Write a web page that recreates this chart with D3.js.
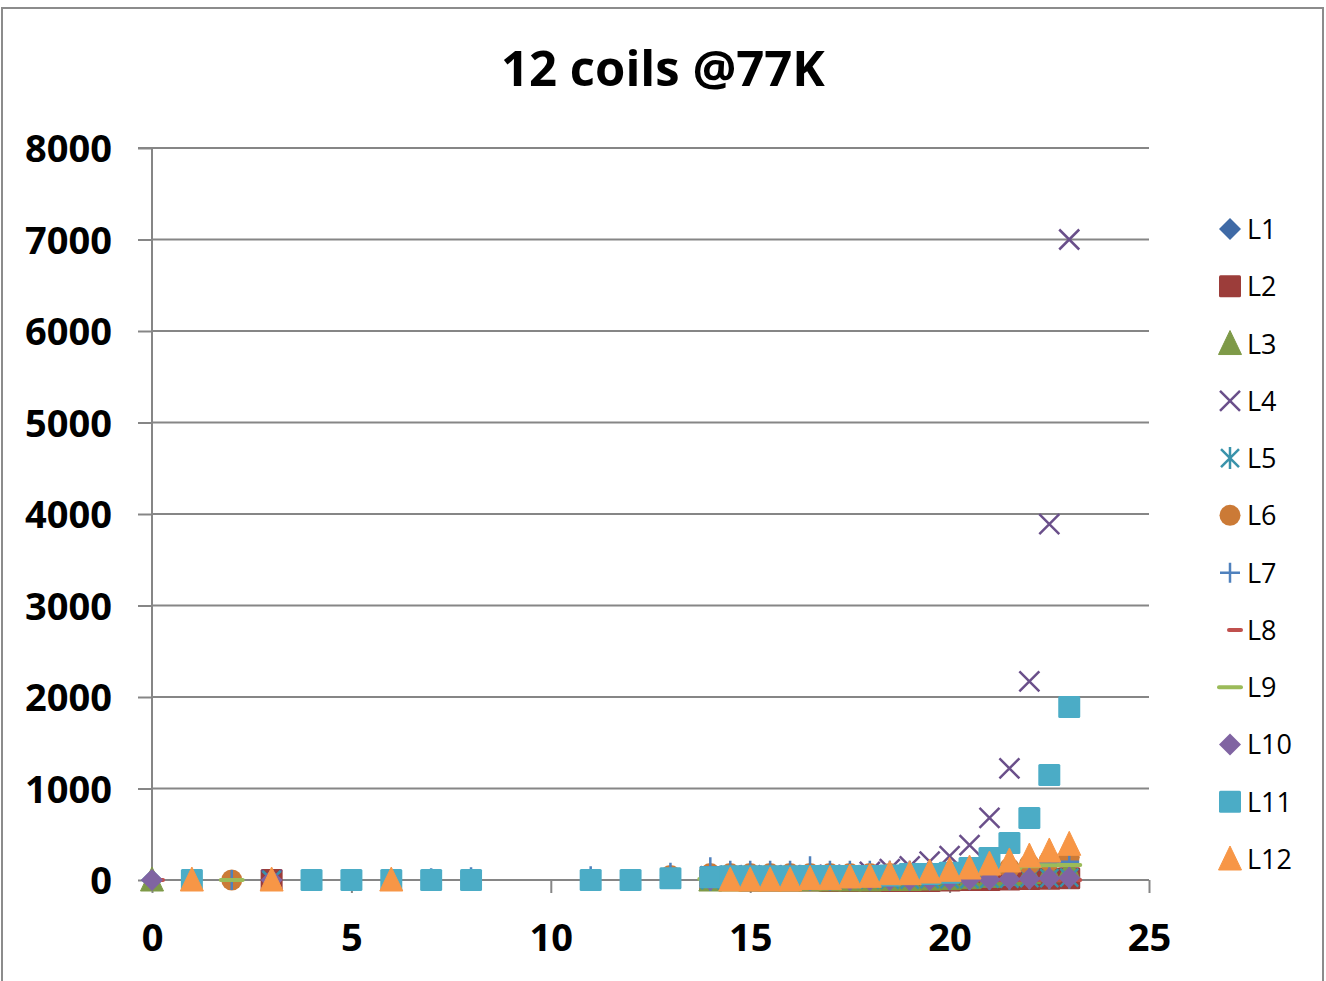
<!DOCTYPE html>
<html>
<head>
<meta charset="utf-8">
<script src="https://cdn.jsdelivr.net/npm/d3@7"></script>
<style>
  html, body { margin: 0; padding: 0; background: #fff; }
  svg { display: block; }
  text { font-family: "Open Sans", "DejaVu Sans", sans-serif; }
</style>
</head>
<body>
<svg id="chart" width="1326" height="981"></svg>
<script>
// ---------- data ----------
const title = "12 coils @77K";
const seriesNames = ["L1","L2","L3","L4","L5","L6","L7","L8","L9","L10","L11","L12"];
const seriesColors = ["#3F6AA6","#9C3D3A","#7E9A48","#6A4F8A","#3A93AB","#CB7A36",
                      "#4F81BD","#C0504D","#9BBB59","#8064A2","#4BACC6","#F79646"];
const seriesMarkers = ["diamond","square","triangle","x","star","circle",
                       "plus","dashShort","dashLong","diamond","square","triangle"];
const xTicks = [0,5,10,15,20,25];
const yTicks = [0,1000,2000,3000,4000,5000,6000,7000,8000];

// sparse early readings per series (x, y)
const xEarly = [[0],[3],[0],[3],[3],[2,13],[2,7,8,11,13],[0],[2],[0,3],[1,4,5,6,7,8,11,12,13],[1,3,6]];
const yEarly = [[0],[0],[0],[0],[0],[0,50],[0,20,30,40,80],[0],[0],[0,0],[0,0,0,0,0,0,0,0,20],[0,0,0]];

// main sweep x values
const xMain = [14,14.5,15,15.5,16,16.5,17,17.5,18,18.5,19,19.5,20,20.5,21,21.5,22,22.5,23];
const L1  = [0,5,5,5,5,5,5,5,5,5,10,10,10,15,15,20,20,25,30];
const L2  = [0,0,-5,-5,-5,-5,-10,-10,-10,-10,-10,-10,-5,0,0,5,10,15,20];
const L3  = [0,0,0,0,0,0,0,0,0,5,5,10,15,25,40,60,80,100,120];
const L4  = [40,45,50,45,50,50,55,50,90,120,150,200,260,380,680,1220,2170,3890,7000];
const L5  = [0,0,0,0,0,0,0,5,5,5,5,10,10,10,15,15,20,20,25];
const L6  = [70,70,70,70,70,70,70,70,70,70,70,70,75,80,100,130,170,210,250];
const L7  = [140,100,100,100,100,150,100,100,100,100,100,100,110,120,130,150,170,180,200];
const L8  = [0,0,0,0,0,0,0,0,0,0,0,0,0,0,0,0,0,0,0];
const L9  = [10,10,10,10,10,10,10,10,10,15,20,30,45,70,100,130,150,160,165];
const L10 = [0,0,0,0,0,0,0,0,0,0,0,0,5,5,5,10,15,20,25];
const L11 = [30,40,40,40,40,45,45,45,45,50,65,65,80,130,240,404,678,1148,1891];
const L12 = [null,0,0,0,0,15,15,33,40,69,69,87,106,131,175,208,262,317,390];
const mainValues = [L1,L2,L3,L4,L5,L6,L7,L8,L9,L10,L11,L12];

// ---------- drawing ----------
const svg = d3.select("#chart");
const gridColor = "#868686";

// outer chart border
svg.append("rect").attr("x", 2).attr("y", 8).attr("width", 1321).attr("height", 990)
  .attr("fill", "#fff").attr("stroke", "#8c8c8c").attr("stroke-width", 2);

const x = d3.scaleLinear().domain([0, 25]).range([152, 1149]);
const y = d3.scaleLinear().domain([0, 8000]).range([880, 148]);

// title
svg.append("text").attr("x", 663).attr("y", 86).attr("text-anchor", "middle")
  .attr("font-size", 49).attr("font-weight", "bold").attr("fill", "#000").text(title);

// gridlines
svg.append("g").selectAll("line").data(yTicks.filter(d => d > 0)).join("line")
  .attr("x1", x(0)).attr("x2", x(25)).attr("y1", d => y(d)).attr("y2", d => y(d))
  .attr("stroke", gridColor).attr("stroke-width", 2);

// y axis
const yAxis = d3.axisLeft(y).tickValues(yTicks).tickSize(14).tickPadding(26).tickFormat(d3.format("d"));
const gy = svg.append("g").attr("transform", `translate(${x(0)},0)`).call(yAxis);
gy.select(".domain").attr("stroke", gridColor).attr("stroke-width", 2).attr("d", `M-14,${y(8000)}H0V${y(0)}`);
gy.selectAll(".tick line").attr("stroke", gridColor).attr("stroke-width", 2);
gy.selectAll(".tick text").attr("font-size", 38).attr("font-weight", "bold").attr("fill", "#000")
  .attr("font-family", "'Open Sans', sans-serif").attr("dy", "0.36em");

// x axis
const xAxis = d3.axisBottom(x).tickValues(xTicks).tickSize(13).tickPadding(44).tickFormat(d3.format("d"));
const gx = svg.append("g").attr("transform", `translate(0,${y(0)})`).call(xAxis);
gx.select(".domain").attr("stroke", gridColor).attr("stroke-width", 2).attr("d", `M${x(0)},0H${x(25)}`);
gx.selectAll(".tick line").attr("stroke", gridColor).attr("stroke-width", 2);
gx.selectAll(".tick text").attr("font-size", 38).attr("font-weight", "bold").attr("fill", "#000")
  .attr("font-family", "'Open Sans', sans-serif").attr("dy", "0.36em");

// marker painter
function drawMarker(g, type, color, cx, cy) {
  const p = g.append("g").attr("transform", `translate(${cx},${cy})`);
  switch (type) {
    case "diamond":
      p.append("path").attr("d", "M0,-11L11,0L0,11L-11,0Z").attr("fill", color); break;
    case "square":
      p.append("rect").attr("x", -11).attr("y", -11).attr("width", 22).attr("height", 22)
        .attr("rx", 1.5).attr("fill", color); break;
    case "triangle":
      p.append("path").attr("d", "M0,-13L11.5,11L-11.5,11Z").attr("fill", color)
        .attr("stroke", color).attr("stroke-width", 1).attr("stroke-linejoin", "round"); break;
    case "x":
      p.append("path").attr("d", "M-10,-10L10,10M10,-10L-10,10").attr("stroke", color)
        .attr("stroke-width", 2.5).attr("fill", "none"); break;
    case "star":
      p.append("path").attr("d", "M-9,-9L9,9M9,-9L-9,9M0,-11V11").attr("stroke", color)
        .attr("stroke-width", 2.5).attr("fill", "none"); break;
    case "circle":
      p.append("circle").attr("r", 10.5).attr("fill", color); break;
    case "plus":
      p.append("path").attr("d", "M-10,0H10M0,-10V10").attr("stroke", color)
        .attr("stroke-width", 2.5).attr("fill", "none"); break;
    case "dashShort":
      p.append("path").attr("d", "M-1,0H11").attr("stroke", color)
        .attr("stroke-width", 4).attr("stroke-linecap", "round"); break;
    case "dashLong":
      p.append("path").attr("d", "M-11,0H11").attr("stroke", color)
        .attr("stroke-width", 4).attr("stroke-linecap", "round"); break;
  }
}

// series points
const plot = svg.append("g");
seriesNames.forEach((name, i) => {
  const pts = [];
  xEarly[i].forEach((xv, k) => pts.push([xv, yEarly[i][k]]));
  xMain.forEach((xv, k) => { if (mainValues[i][k] !== null) pts.push([xv, mainValues[i][k]]); });
  const g = plot.append("g").attr("class", "series-" + name);
  pts.forEach(([xv, yv]) => drawMarker(g, seriesMarkers[i], seriesColors[i], x(xv), y(yv)));
});

// legend
const legendY = d3.scaleLinear().domain([0, 11]).range([229, 859]);
const lg = svg.append("g");
seriesNames.forEach((name, i) => {
  const cy = legendY(i);
  drawMarker(lg, seriesMarkers[i], seriesColors[i], 1230, cy);
  lg.append("text").attr("x", 1247).attr("y", cy + 10).attr("font-size", 27)
    .attr("fill", "#000").text(name);
});
</script>
</body>
</html>
